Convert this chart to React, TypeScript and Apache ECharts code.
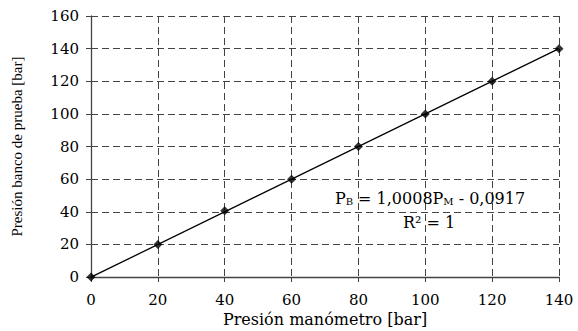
import React, { useEffect, useRef } from "react";
import * as echarts from "echarts";

const xValues = [0, 20, 40, 60, 80, 100, 120, 140];
const yValues = [0, 20, 40.6, 60, 80, 100, 120, 140];
const slope = 1.0008;
const intercept = -0.0917;
const trendX = [0, 140];
const xTitle = "Presión manómetro [bar]";
const yTitle = "Presión banco de prueba [bar]";

const SERIF = "Liberation Serif";
const WIDE = "DejaVu Serif";

export default function App() {
  const ref = useRef<HTMLDivElement>(null);
  useEffect(() => {
    const chart = echarts.init(ref.current!, null, { renderer: "svg" });
    const pts = xValues.map((x, i) => [x, yValues[i]]);
    const trend = trendX.map((x) => [x, slope * x + intercept]);
    chart.setOption({
      animation: false,
      backgroundColor: "#fff",
      textStyle: { fontFamily: SERIF },
      grid: { left: 91, right: 19, top: 16, bottom: 54, containLabel: false, outerBoundsMode: "none" },
      xAxis: {
        type: "value",
        min: 0,
        max: 140,
        interval: 20,
        name: xTitle,
        nameLocation: "middle",
        nameGap: 31,
        nameTextStyle: { fontFamily: WIDE, fontSize: 16, color: "#000" },
        axisLine: { show: true, onZero: false, lineStyle: { color: "#444", width: 1.3 } },
        axisTick: { show: true, length: 5, lineStyle: { color: "#444" } },
        axisLabel: { fontFamily: WIDE, fontSize: 15, color: "#000", margin: 15 },
        splitLine: { show: true, lineStyle: { color: "#444", type: [7, 4], width: 1 } },
      },
      yAxis: {
        type: "value",
        min: 0,
        max: 160,
        interval: 20,
        name: yTitle,
        nameLocation: "middle",
        nameGap: 67,
        nameTextStyle: { fontFamily: SERIF, fontSize: 15, color: "#000" },
        axisLine: { show: true, lineStyle: { color: "#444", width: 1.3 } },
        axisTick: { show: true, length: 5, lineStyle: { color: "#444" } },
        axisLabel: { fontFamily: WIDE, fontSize: 15, color: "#000", margin: 12 },
        splitLine: { show: true, lineStyle: { color: "#444", type: [7, 4], width: 1 } },
      },
      series: [
        {
          type: "line",
          data: trend,
          showSymbol: false,
          symbol: "none",
          lineStyle: { color: "#000", width: 1.3 },
          z: 3,
        },
        {
          type: "scatter",
          data: pts,
          symbol: "diamond",
          symbolSize: [9, 9],
          itemStyle: { color: "#000" },
          z: 4,
        },
      ],
      graphic: [
        {
          type: "text",
          x: 430,
          y: 198,
          style: {
            text: "{a|P}{s|B}{a| = 1,0008P}{s|M}{a| - 0,0917}",
            align: "center",
            verticalAlign: "middle",
            fill: "#000",
            fontFamily: WIDE,
            fontSize: 16,
            rich: {
              a: { fontFamily: WIDE, fontSize: 16, fill: "#000", verticalAlign: "bottom" },
              s: { fontFamily: WIDE, fontSize: 10, fill: "#000", verticalAlign: "bottom" },
            },
          },
          z: 10,
        },
        {
          type: "text",
          x: 429,
          y: 222,
          style: {
            text: "R² = 1",
            align: "center",
            verticalAlign: "middle",
            fill: "#000",
            fontFamily: WIDE,
            fontSize: 16,
          },
          z: 10,
        },
      ],
    });
    return () => chart.dispose();
  }, []);
  return <div ref={ref} style={{ width: 578, height: 331, position: "absolute", left: 0, top: 0 }} />;
}
